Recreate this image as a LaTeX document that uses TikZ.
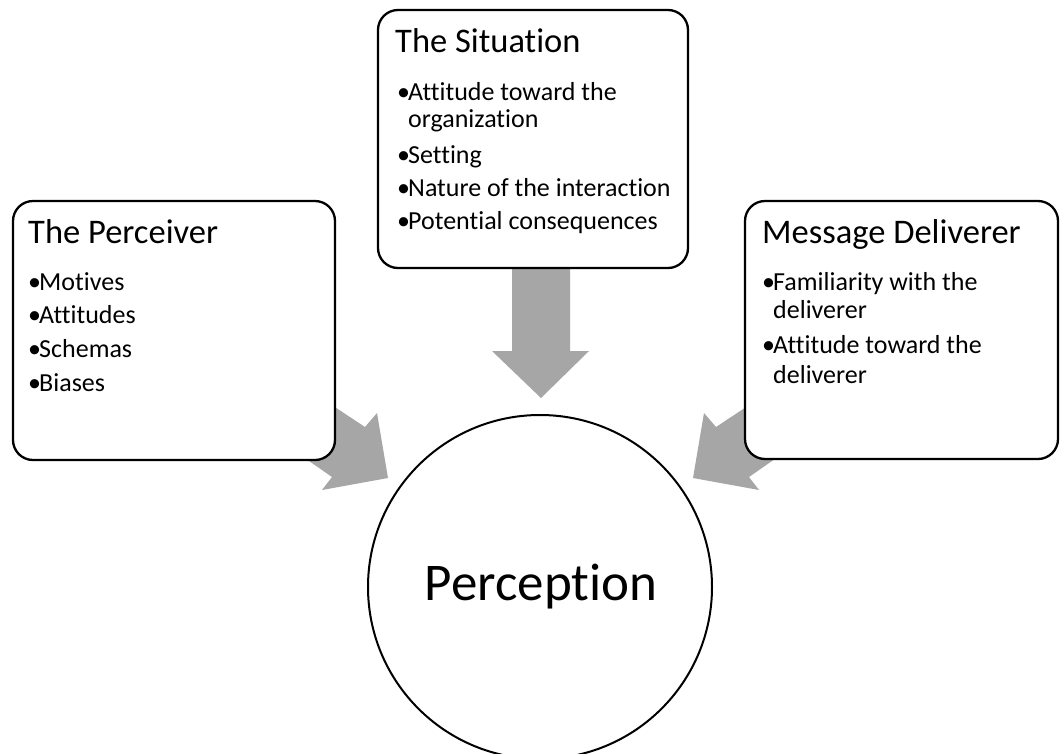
\documentclass[tikz,border=0pt]{standalone}
\usepackage{fontspec}
\setmainfont[Ligatures=NoCommon]{Carlito}
\newcommand\bul{\makebox[11pt][l]{•}}
\begin{document}
\begin{tikzpicture}[x=1pt,y=-1pt,
  box/.style={draw=black, line width=2.3pt, rounded corners=20pt, fill=white},
  blk/.style={fill=arrowgray, draw=none},
  ttl/.style={anchor=base west, inner sep=0pt, font=\fontsize{34.5}{38}\selectfont},
  itm/.style={anchor=base west, inner sep=0pt, font=\fontsize{26}{29}\selectfont}]
\definecolor{arrowgray}{RGB}{166,166,166}
\useasboundingbox (0,0) rectangle (1061,753);
\fill[white] (0,0) rectangle (1061,753);
% block arrows
\fill[blk] (512,250) -- (570,250) -- (570,351) -- (589,351) -- (541,398) -- (492,351) -- (512,351) -- cycle;
\fill[blk] (300,384) -- (365,427) -- (377,413) -- (388,478) -- (322,490) -- (332,477) -- (299,454) -- cycle;
\fill[blk] (781,384) -- (716,427) -- (704,413) -- (693,478) -- (759,490) -- (749,477) -- (782,454) -- cycle;
% boxes
\draw[box] (378,10) rectangle (688,268);
\draw[box] (13,201) rectangle (335,460);
\draw[box] (745,201) rectangle (1058,459);
\node[circle, draw=black, line width=2pt, minimum size=344pt, inner sep=0pt] (perc) at (540,587) {};
\node[font=\fontsize{53}{57}\selectfont, inner sep=0pt] (perct) at (541,587) {Perception};
% Situation
\node[ttl] (st) at (395,52) {The Situation};
\node[itm] (s1) at (397,100) {\bul Attitude toward the};
\node[itm] (s1b) at (408,127) {organization};
\node[itm] (s2) at (397,163) {\bul Setting};
\node[itm] (s3) at (397,196) {\bul Nature of the interaction};
\node[itm] (s4) at (397,229) {\bul Potential consequences};
% Perceiver
\node[ttl] (pt) at (28,243) {The Perceiver};
\node[itm] (p1) at (28,290) {\bul Motives};
\node[itm] (p2) at (28,323) {\bul Attitudes};
\node[itm] (p3) at (28,357) {\bul Schemas};
\node[itm] (p4) at (28,391) {\bul Biases};
% Message Deliverer
\node[ttl] (mt) at (762,243) {Message Deliverer};
\node[itm] (m1) at (762,290) {\bul Familiarity with the};
\node[itm] (m1b) at (773,318) {deliverer};
\node[itm] (m2) at (762,353) {\bul Attitude toward the};
\node[itm] (m2b) at (773,383) {deliverer};
\end{tikzpicture}
\end{document}
